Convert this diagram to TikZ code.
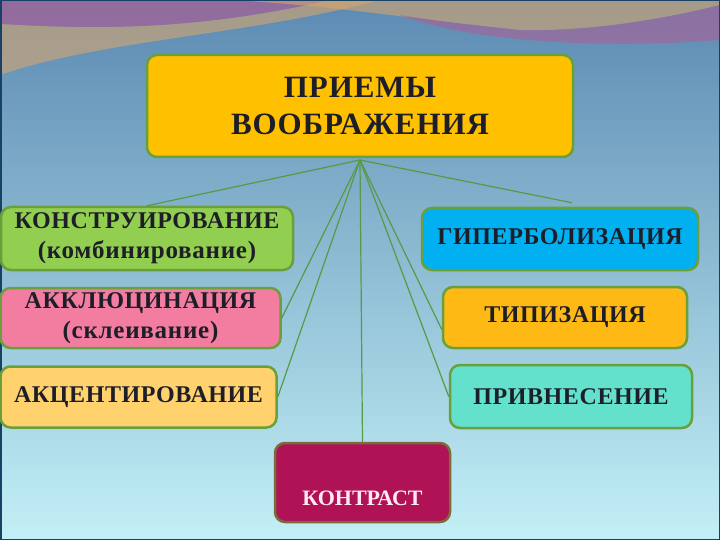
\documentclass[tikz,border=0pt]{standalone}
\usepackage{fontspec}
\setmainfont{Liberation Serif}
\definecolor{bgtop}{RGB}{92,138,178}
\definecolor{bgmid}{RGB}{150,200,222}
\definecolor{bgbot}{RGB}{195,240,246}
\definecolor{frame}{RGB}{25,65,100}
\definecolor{bord}{RGB}{105,160,60}
\definecolor{ln}{RGB}{85,155,70}
\definecolor{ink}{RGB}{30,30,40}
\definecolor{ctop}{RGB}{255,192,0}
\definecolor{cgreen}{RGB}{146,206,80}
\definecolor{cpink}{RGB}{242,125,160}
\definecolor{cpale}{RGB}{255,210,110}
\definecolor{cblue}{RGB}{0,176,240}
\definecolor{corange}{RGB}{255,185,20}
\definecolor{cturq}{RGB}{100,225,205}
\definecolor{ccrim}{RGB}{175,18,85}
\definecolor{kbord}{RGB}{125,105,60}
\definecolor{ktext}{RGB}{255,232,242}
\definecolor{wmauve}{RGB}{170,95,150}
\definecolor{wtan}{RGB}{215,165,110}
\newcommand\sub[1]{{\fontsize{25}{30}\selectfont\addfontfeatures{LetterSpace=3}#1}}
\begin{document}
\begin{tikzpicture}[x=1pt,y=-1pt]
				\tikzset{b/.style={draw=bord,line width=2.5pt,rounded corners=10pt,align=center,text=ink,font=\bfseries\fontsize{24}{30}\selectfont\addfontfeatures{LetterSpace=2.5}},
					c/.style={draw=ln,line width=1.2pt}}
				\useasboundingbox(0,0)rectangle(720,540);
				% background and waves
				\shade[top color=bgtop,middle color=bgmid,bottom color=bgbot](0,0)rectangle(720,540);
				\fill[wmauve,opacity=.7](0,0)--(0,24)..controls(100,30)and(200,30)..(330,0)--cycle;
				\fill[wtan,opacity=.6](0,24)..controls(100,30)and(200,30)..(330,0)--(380,0)..controls(250,35)and(100,40)..(0,75)--cycle;
				\fill[wtan,opacity=.6](230,0)..controls(330,5)and(420,20)..(520,30)..controls(600,32)and(680,15)..(720,5)--(720,0)--cycle;
				\fill[wmauve,opacity=.6](400,15)..controls(480,45)and(620,48)..(720,40)--(720,5)..controls(680,15)and(600,32)..(520,30)..controls(470,25)and(430,20)..(400,15)--cycle;
				\draw[frame,line width=3pt](0,0)rectangle(720,540);
				% boxes
				\path(360,106)node[b,fill=ctop,minimum width=426pt,minimum height=102pt,font=\bfseries\fontsize{31}{37}\selectfont\addfontfeatures{LetterSpace=3}](T){ПРИЕМЫ\\ВООБРАЖЕНИЯ};
				\path(147,238.5)node[b,fill=cgreen,minimum width=292pt,minimum height=63pt](K){КОНСТРУИРОВАНИЕ\\\sub{(комбинирование)}};
				\path(140.5,318)node[b,fill=cpink,minimum width=280pt,minimum height=60pt](A){АККЛЮЦИНАЦИЯ\\\sub{(склеивание)}};
				\path(138.5,397)node[b,fill=cpale,minimum width=276pt,minimum height=61pt](Ac){АКЦЕНТИРОВАНИЕ};
				\path(560,239)node[b,fill=cblue,minimum width=276pt,minimum height=62pt](G){ГИПЕРБОЛИЗАЦИЯ};
				\path(565,317.5)node[b,fill=corange,minimum width=244pt,minimum height=61pt](Tp){ТИПИЗАЦИЯ};
				\path(571,396.5)node[b,fill=cturq,minimum width=242pt,minimum height=63pt](P){ПРИВНЕСЕНИЕ};
				\path(362.5,482.5)node[b,fill=ccrim,draw=kbord,minimum width=175pt,minimum height=79pt,text=ktext,font=\bfseries\fontsize{22}{26}\selectfont](Ko){\raisebox{-23pt}[0pt][0pt]{КОНТРАСТ}};
				% connectors
				\coordinate(H)at(360,160);
				\coordinate(g)at([xshift=12pt,yshift=4pt]G.north);
				\coordinate(t)at([yshift=-12pt]Tp.west);
				\foreach \y in {K.north,A.east,Ac.east,Ko.north,P.west,g,t}
				\draw[c](H)--(\y);
			\end{tikzpicture}
\end{document}
